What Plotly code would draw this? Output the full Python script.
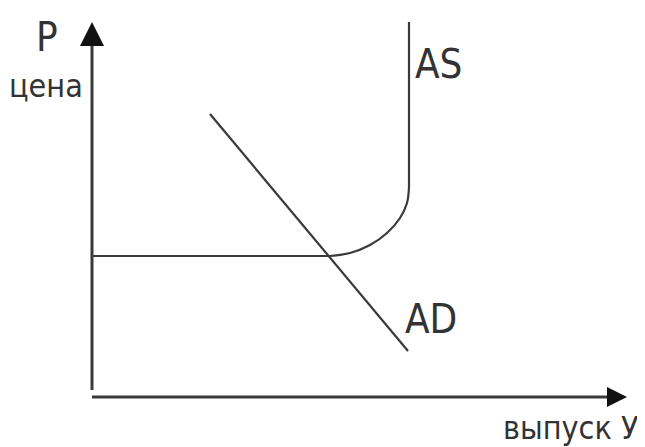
import plotly.graph_objects as go

# coordinates measured from the axis origin (output to the right, price upward)
as_flat_x = [0, 238]
as_flat_y = [141, 141]
as_bend_x = [238, 258, 278, 295, 308, 315, 317]
as_bend_y = [141, 144, 152, 164, 179, 194, 210]
as_vert_x = [317, 317]
as_vert_y = [210, 375]
ad_x = [118, 316]
ad_y = [283, 46]
y_axis_x = [0, 0]
y_axis_y = [7, 360]
x_axis_x = [0, 525]
x_axis_y = [0, 0]

line_col = "#3a3a3a"
big = dict(family="Liberation Sans Narrow, DejaVu Sans Condensed, Liberation Sans",
           size=40, color="#333333")
small = dict(big, size=32)

fig = go.Figure()
# axes with arrow tips
fig.add_trace(go.Scatter(x=y_axis_x, y=y_axis_y, mode="lines", line=dict(color=line_col, width=3)))
fig.add_trace(go.Scatter(x=x_axis_x, y=x_axis_y, mode="lines", line=dict(color=line_col, width=3)))
fig.add_trace(go.Scatter(x=[0], y=[375], mode="markers",
                         marker=dict(symbol="arrow-up", size=24, color="#111111")))
fig.add_trace(go.Scatter(x=[535], y=[0], mode="markers",
                         marker=dict(symbol="arrow-right", size=20, color="#111111")))
# AS curve: flat part, bend, vertical part
fig.add_trace(go.Scatter(x=as_flat_x, y=as_flat_y, mode="lines", line=dict(color=line_col, width=2.2)))
fig.add_trace(go.Scatter(x=as_bend_x, y=as_bend_y, mode="lines",
                         line=dict(color=line_col, width=2.2, shape="spline")))
fig.add_trace(go.Scatter(x=as_vert_x, y=as_vert_y, mode="lines", line=dict(color=line_col, width=2.2)))
# AD line
fig.add_trace(go.Scatter(x=ad_x, y=ad_y, mode="lines", line=dict(color=line_col, width=2.2)))

labels = [("P", -45, 360, big), ("цена", -46, 311, small), ("AS", 346, 333, big),
          ("AD", 339, 78, big), ("выпуск У", 479, -31, small)]
for t, lx, ly, f in labels:
    fig.add_annotation(x=lx, y=ly, text=t, showarrow=False, font=f)

# the page puts the plot 8px in from the corner, so the ranges are shifted by 8px
fig.update_xaxes(range=[-84, 561], visible=False)
fig.update_yaxes(range=[-58, 389], visible=False)
fig.update_layout(width=645, height=447, margin=dict(l=0, r=0, t=0, b=0),
                  showlegend=False, plot_bgcolor="white", paper_bgcolor="white")
fig.write_html("out.html")
